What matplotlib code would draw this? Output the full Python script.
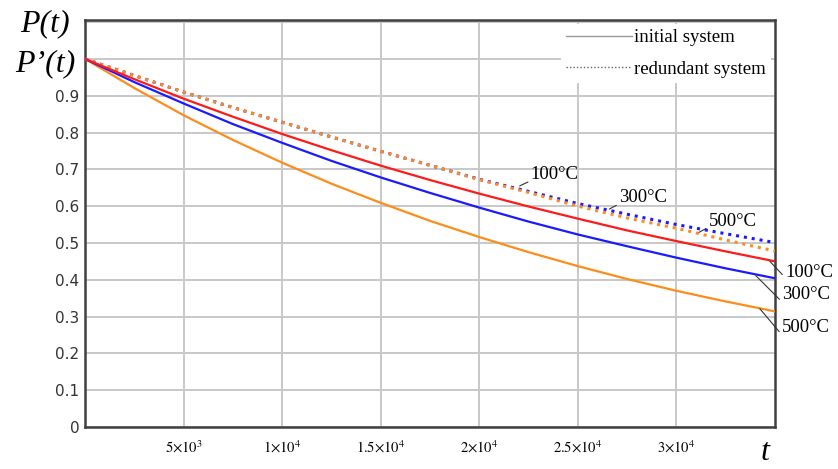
import numpy as np
import matplotlib
matplotlib.use("Agg")
import matplotlib.pyplot as plt
from matplotlib.lines import Line2D

plt.rcParams['mathtext.fontset'] = 'stix'

# time points (hours)
t = [0, 2500, 5000, 7500, 10000, 12500, 15000, 17500, 20000,
     22500, 25000, 27500, 30000, 32500, 35000]

# initial system P(t)
p_100 = [1.0, 0.945, 0.892, 0.843, 0.796, 0.752, 0.710, 0.671, 0.634,
         0.599, 0.566, 0.534, 0.505, 0.477, 0.450]
p_300 = [1.0, 0.937, 0.879, 0.823, 0.772, 0.723, 0.678, 0.636, 0.596,
         0.558, 0.523, 0.491, 0.460, 0.431, 0.404]
p_500 = [1.0, 0.921, 0.847, 0.780, 0.718, 0.661, 0.609, 0.560, 0.516,
         0.475, 0.437, 0.402, 0.370, 0.341, 0.314]

# redundant system P'(t)
pr_300 = [1.0, 0.955, 0.910, 0.868, 0.828, 0.788, 0.749, 0.711, 0.673,
          0.640, 0.607, 0.578, 0.550, 0.525, 0.501]
pr_500 = [1.0, 0.955, 0.910, 0.868, 0.828, 0.788, 0.749, 0.711, 0.672,
          0.637, 0.600, 0.568, 0.540, 0.508, 0.478]

x_ticks = [5000, 10000, 15000, 20000, 25000, 30000]
x_labels = [r'$5{\times}10^{3}$', r'$1{\times}10^{4}$', r'$1.5{\times}10^{4}$',
            r'$2{\times}10^{4}$', r'$2.5{\times}10^{4}$', r'$3{\times}10^{4}$']
y_ticks = [0, 0.1, 0.2, 0.3, 0.4, 0.5, 0.6, 0.7, 0.8, 0.9, 1.0, 1.1]
y_labels = ['0', '0.1', '0.2', '0.3', '0.4', '0.5', '0.6', '0.7', '0.8', '0.9', '', '']

RED = '#ff1a1a'
BLUE = '#1a1aff'
ORANGE = '#ff8c1a'
serif = 'Liberation Serif'

fig = plt.figure(figsize=(8.38, 4.69), dpi=100)
ax = fig.add_axes([0.1014, 0.0896, 0.8234, 0.868])

dots = (0, (1, 1.6))
ax.plot(t, pr_300, color=BLUE, lw=2.2, linestyle=dots, zorder=3)
ax.plot(t, pr_500, color=ORANGE, lw=2.2, linestyle=dots, zorder=3)
ax.plot(t, p_500, color=ORANGE, lw=1.6, zorder=4)
ax.plot(t, p_300, color=BLUE, lw=1.6, zorder=4)
ax.plot(t, p_100, color=RED, lw=1.6, zorder=4)

ax.set_xlim(0, 35000)
ax.set_ylim(0, 1.106)
ax.set_xticks(x_ticks)
ax.set_xticklabels(x_labels, fontsize=10.5, family=serif)
ax.set_yticks(y_ticks)
ax.set_yticklabels(y_labels, fontsize=11, color='#333333')
ax.tick_params(length=0, pad=4)
ax.tick_params(axis='x', pad=9)
ax.grid(True, color='#c8c8c8', lw=1.4)
ax.set_axisbelow(True)
for s in ax.spines.values():
    s.set_color('#404040')
    s.set_linewidth(1.8)

# axis titles
fig.text(0.054, 0.950, 'P(t)', fontsize=23, family=serif, style='italic',
         ha='center', va='center')
fig.text(0.054, 0.865, 'P\u2019(t)', fontsize=23, family=serif, style='italic',
         ha='center', va='center')
fig.text(0.913, 0.035, 't', fontsize=23, family=serif, style='italic',
         ha='center', va='center')

# legend
handles = [Line2D([], [], color='#999999', lw=1.0),
           Line2D([], [], color='#666666', lw=1.0, linestyle=(0, (1, 1.5)))]
leg = ax.legend(handles, ['initial system', 'redundant system'], loc='upper right',
                prop={'family': serif, 'size': 13.5}, frameon=True, fancybox=False,
                edgecolor='none', facecolor='white', framealpha=1,
                handlelength=3.5, handletextpad=0.1, borderaxespad=0.2,
                labelspacing=0.75, borderpad=0.3)
leg.set_zorder(6)

# labels at right end of the initial-system curves
def leader(text, xy, off, rel):
    ax.annotate(text, xy=xy, xytext=off, textcoords='offset points',
                fontsize=13.5, family=serif, ha='left', va='center',
                arrowprops=dict(arrowstyle='-', color='#333333', lw=0.8,
                                relpos=rel, shrinkA=0, shrinkB=0),
                annotation_clip=False, zorder=7)

leader('100°C', (34740, 0.450), (11, -8), (0, 0.2))
leader('300°C', (34030, 0.411), (19, -13.5), (0, 0.05))
leader('500°C', (34230, 0.3215), (16, -13.5), (0, 0.05))

# labels on the redundant-system curves
leader('100°C', (22050, 0.655), (8, 8), (0, 0.15))
leader('300°C', (26600, 0.592), (7, 8), (0, 0.15))
leader('500°C', (31150, 0.529), (7, 8), (0, 0.15))

fig.savefig('out.png', dpi=100)
